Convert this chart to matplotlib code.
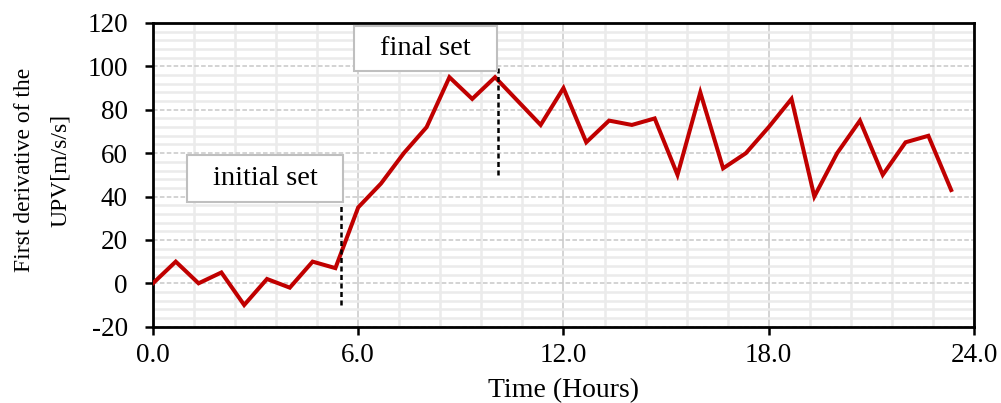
import matplotlib
matplotlib.use("Agg")
import matplotlib.pyplot as plt
from matplotlib.ticker import MultipleLocator, FormatStrFormatter
from matplotlib.patches import Rectangle
import numpy as np

# Measurements: first derivative of UPV, one reading every 40 minutes
time_hours = np.arange(36) * (2.0 / 3.0)
derivative = [0, 10, 0, 5, -10, 2, -2, 10, 7, 35, 46, 60, 72, 95, 85, 95, 84, 73,
              90, 65, 75, 73, 76, 50, 88, 53, 60, 72, 85, 40, 60, 75, 50, 65, 68, 43]

# Setting-time markers: (label, time, y-range of the dashed marker)
set_labels = ["initial set", "final set"]
set_times = [5.5, 10.1]
set_spans = [(-10, 36), (50, 100)]

x_ticks = [0, 6, 12, 18, 24]
y_ticks = [-20, 0, 20, 40, 60, 80, 100, 120]

plt.rcParams["font.family"] = ["Liberation Serif", "DejaVu Serif"]
plt.rcParams["axes.unicode_minus"] = False

fig = plt.figure(figsize=(10.01, 4.03), dpi=100)
ax = fig.add_axes([0.1528, 0.1893, 0.8202, 0.7537])

ax.plot(time_hours, derivative, color="#c00000", lw=2.9, zorder=3,
        solid_joinstyle="miter")

# Dashed setting-time markers
for t, (y0, y1) in zip(set_times, set_spans):
    ax.plot([t, t], [y0, y1], color="black", lw=1.8, ls=(0, (2, 1.4)), zorder=4)

# Label boxes
boxes = [((0.99, 37.7), 4.57, 21.3), ((5.88, 97.9), 4.18, 20.6)]
for label, ((bx, by), bw, bh) in zip(set_labels, boxes):
    ax.add_patch(Rectangle((bx, by), bw, bh, facecolor="white", edgecolor="#bfbfbf",
                           lw=1.5, zorder=5))
    ax.text(bx + bw / 2, by + bh / 2, label, ha="center", va="center",
            fontsize=20.5, zorder=6)

ax.set_xlim(0, 24)
ax.set_ylim(-20, 120)
ax.set_xticks(x_ticks)
ax.set_yticks(y_ticks)
ax.xaxis.set_major_formatter(FormatStrFormatter("%.1f"))
ax.xaxis.set_minor_locator(MultipleLocator(1.2))
ax.yaxis.set_minor_locator(MultipleLocator(4))

ax.set_axisbelow(True)
ax.grid(which="minor", color="#ebebeb", lw=1.8)
ax.grid(which="major", axis="x", color="#d4d4d4", lw=1.4)
ax.grid(which="major", axis="y", color="#c8c8c8", lw=1.1, ls=(0, (3, 1.5)))

ax.tick_params(which="major", direction="out", length=6, width=1.8, colors="black",
               labelsize=19.5)
ax.tick_params(axis="y", which="major", pad=12)
ax.tick_params(axis="x", which="major", pad=6)
ax.tick_params(which="minor", length=0)

for sp in ax.spines.values():
    sp.set_color("black")
    sp.set_linewidth(2.0)

ax.set_xlabel("Time (Hours)", fontsize=20)
ax.xaxis.set_label_coords(0.5, -0.17)
ax.set_ylabel("First derivative of the\nUPV[m/s/s]", fontsize=17, linespacing=1.95,
              va="center")
ax.yaxis.set_label_coords(-0.135, 0.515)

fig.savefig("out.png", dpi=100)
